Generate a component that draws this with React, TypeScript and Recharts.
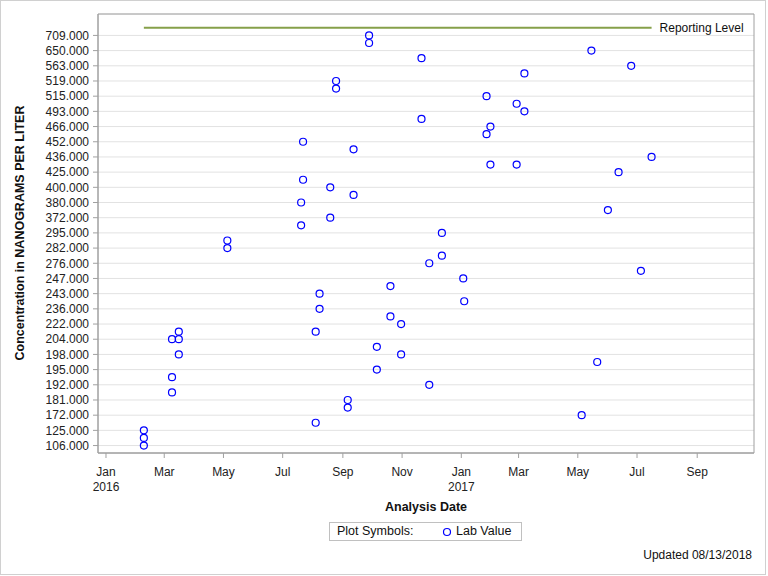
import React from 'react';
import {
  ScatterChart,
  Scatter,
  XAxis,
  YAxis,
  CartesianGrid,
  ReferenceLine,
  ReferenceArea,
} from 'recharts';

// Every distinct concentration on the discrete y axis (only every other one is labelled)
const concentrationLevels = [
  106, 115, 125, 150, 172, 176, 181, 186, 192, 194, 195, 197, 198, 201, 204, 213,
  222, 229, 236, 240, 243, 245, 247, 262, 276, 279, 282, 288, 295, 334, 372, 376,
  380, 390, 400, 412, 425, 430, 436, 444, 452, 459, 466, 480, 493, 504, 515, 517,
  519, 541, 563, 606, 650, 680, 709,
];
const reportingLevel = 750;

const sampleDates = [
  '2016-02-09', '2016-02-09', '2016-02-09',
  '2016-03-09', '2016-03-09', '2016-03-09',
  '2016-03-16', '2016-03-16', '2016-03-16',
  '2016-05-05', '2016-05-05',
  '2016-07-20', '2016-07-20',
  '2016-07-22', '2016-07-22',
  '2016-08-04', '2016-08-04',
  '2016-08-08', '2016-08-08',
  '2016-08-19', '2016-08-19',
  '2016-08-25', '2016-08-25',
  '2016-09-06', '2016-09-06',
  '2016-09-12', '2016-09-12',
  '2016-09-28', '2016-09-28',
  '2016-10-06', '2016-10-06',
  '2016-10-20', '2016-10-20',
  '2016-10-31', '2016-10-31',
  '2016-11-21', '2016-11-21',
  '2016-11-29', '2016-11-29',
  '2016-12-12', '2016-12-12',
  '2017-01-03',
  '2017-01-04',
  '2017-01-27', '2017-01-27',
  '2017-01-31', '2017-01-31',
  '2017-02-27', '2017-02-27',
  '2017-03-07', '2017-03-07',
  '2017-05-05',
  '2017-05-15',
  '2017-05-21',
  '2017-06-01',
  '2017-06-12',
  '2017-06-25',
  '2017-07-05',
  '2017-07-16',
];

const labValues = [
  106, 115, 125,
  204, 194, 186,
  204, 213, 198,
  282, 288,
  380, 334,
  452, 412,
  213, 150,
  243, 236,
  400, 372,
  519, 517,
  181, 176,
  444, 390,
  709, 680,
  201, 195,
  245, 229,
  222, 198,
  606, 480,
  276, 192,
  295, 279,
  247,
  240,
  515, 459,
  466, 430,
  504, 430,
  541, 493,
  172,
  650,
  197,
  376,
  425,
  563,
  262,
  436,
];

const tickMonths = [
  '2016-01-01', '2016-03-01', '2016-05-01', '2016-07-01', '2016-09-01', '2016-11-01',
  '2017-01-01', '2017-03-01', '2017-05-01', '2017-07-01', '2017-09-01',
];
const monthNames = ['Jan', 'Feb', 'Mar', 'Apr', 'May', 'Jun', 'Jul', 'Aug', 'Sep', 'Oct', 'Nov', 'Dec'];

const DAY = 86400000;
const toTime = (s: string) => {
  const [y, m, d] = s.split('-').map(Number);
  return Date.UTC(y, m - 1, d);
};

const allLevels = [...concentrationLevels, reportingLevel];
const levelPos = (v: number) => allLevels.indexOf(v) / 2;
const labelledLevels = concentrationLevels.filter((_, i) => i % 2 === 0);

const data = sampleDates.map((d, i) => ({
  date: toTime(d),
  value: labValues[i],
  pos: levelPos(labValues[i]),
}));

const xTicks = tickMonths.map(toTime);
const yTicks = labelledLevels.map((_, i) => i);

const xStart = Date.UTC(2016, 0, 1) - 8.24 * DAY;
const xEnd = Date.UTC(2016, 0, 1) + 667.5 * DAY;
const yMin = -0.49;
const yMax = 28.41;

const firstDate = Math.min(...data.map((d) => d.date));
const lastDate = Math.max(...data.map((d) => d.date));
const reportingPos = levelPos(reportingLevel);

const FONT = '"Liberation Sans", Arial, sans-serif';
const AXIS_GRAY = '#a0a0a0';

const XTick = (props: any) => {
  const { x, y, payload } = props;
  const dt = new Date(payload.value);
  const m = dt.getUTCMonth();
  return (
    <g>
      <text x={x} y={y + 16} textAnchor="middle" fontSize={12} fill="#222" fontFamily={FONT}>
        {monthNames[m]}
      </text>
      {m === 0 && (
        <text x={x} y={y + 31} textAnchor="middle" fontSize={12} fill="#222" fontFamily={FONT}>
          {dt.getUTCFullYear()}
        </text>
      )}
    </g>
  );
};

const OpenCircle = (props: any) => {
  const { cx, cy } = props;
  return <circle cx={cx} cy={cy} r={3.5} fill="none" stroke="#0000ff" strokeWidth={1.2} />;
};

export default function App() {
  return (
    <div
      style={{
        position: 'absolute',
        left: 0,
        top: 0,
        width: 768,
        height: 576,
        fontFamily: FONT,
        background: '#fff',
      }}
    >
      <div
        style={{
          position: 'absolute',
          left: 0,
          top: 0,
          width: 764,
          height: 573,
          border: '1px solid #d0d0d0',
        }}
      />
      <ScatterChart
        width={768}
        height={576}
        margin={{ top: 14, right: 14, bottom: 0, left: 0 }}
        style={{ position: 'absolute', left: 0, top: 0 }}
      >
        <CartesianGrid horizontal vertical={false} stroke="#e2e2e2" />
        <XAxis
          type="number"
          dataKey="date"
          domain={[xStart, xEnd]}
          ticks={xTicks}
          allowDataOverflow
          height={123}
          stroke={AXIS_GRAY}
          tickLine={{ stroke: AXIS_GRAY }}
          tickSize={5}
          tick={<XTick />}
          interval={0}
        />
        <YAxis
          type="number"
          dataKey="pos"
          domain={[yMin, yMax]}
          ticks={yTicks}
          allowDataOverflow
          width={98}
          stroke={AXIS_GRAY}
          tickLine={{ stroke: AXIS_GRAY }}
          tickSize={5}
          tickMargin={4}
          interval={0}
          tick={{ fill: '#222', fontSize: 12, fontFamily: FONT }}
          tickFormatter={(i: number) => labelledLevels[i].toFixed(3)}
        />
        <ReferenceArea
          x1={xStart}
          x2={xEnd}
          y1={yMin}
          y2={yMax}
          fill="none"
          stroke={AXIS_GRAY}
          strokeOpacity={1}
          fillOpacity={0}
          ifOverflow="visible"
        />
        <ReferenceLine
          segment={[
            { x: firstDate, y: reportingPos },
            { x: lastDate, y: reportingPos },
          ]}
          stroke="#86a04a"
          strokeWidth={2}
          ifOverflow="visible"
          label={{
            value: 'Reporting Level',
            position: 'right',
            offset: 8,
            fill: '#111',
            fontSize: 12,
            fontFamily: FONT,
          }}
        />
        <Scatter data={data} shape={<OpenCircle />} isAnimationActive={false} />
      </ScatterChart>

      <div
        style={{
          position: 'absolute',
          left: 20,
          top: 233,
          transform: 'translate(-50%, -50%) rotate(-90deg)',
          whiteSpace: 'nowrap',
          fontSize: 12.5,
          fontWeight: 'bold',
          color: '#111',
        }}
      >
        Concentration in NANOGRAMS PER LITER
      </div>
      <div
        style={{
          position: 'absolute',
          left: 426,
          top: 507,
          transform: 'translate(-50%, -50%)',
          whiteSpace: 'nowrap',
          fontSize: 12.5,
          fontWeight: 'bold',
          color: '#111',
        }}
      >
        Analysis Date
      </div>
      <div
        style={{
          position: 'absolute',
          left: 329,
          top: 522,
          width: 191,
          height: 17,
          border: '1px solid #c0c0c0',
          fontSize: 12.5,
          lineHeight: '17px',
          color: '#111',
          whiteSpace: 'nowrap',
        }}
      >
        <span style={{ position: 'absolute', left: 7 }}>Plot Symbols:</span>
        <svg
          width={10}
          height={10}
          style={{ position: 'absolute', left: 112, top: 4 }}
        >
          <circle cx={5} cy={5} r={3.5} fill="none" stroke="#0000ff" strokeWidth={1.2} />
        </svg>
        <span style={{ position: 'absolute', left: 126 }}>Lab Value</span>
      </div>
      <div
        style={{
          position: 'absolute',
          right: 768 - 752,
          top: 548,
          fontSize: 12,
          lineHeight: '15px',
          color: '#111',
          whiteSpace: 'nowrap',
        }}
      >
        Updated 08/13/2018
      </div>
    </div>
  );
}
